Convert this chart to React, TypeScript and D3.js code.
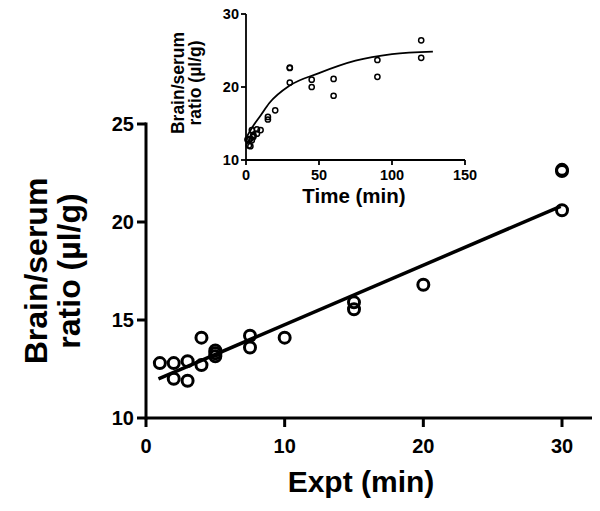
import React from "react";
import * as d3 from "d3";

// Main panel data: experimental time (min) vs brain/serum ratio (µl/g)
const mainTime = [1, 2, 2, 3, 3, 4, 4, 5, 5, 5, 7.5, 7.5, 10, 15, 15, 20, 30, 30, 30];
const mainRatio = [12.8, 12.8, 12.0, 12.9, 11.9, 14.1, 12.7, 13.15, 13.3, 13.45, 14.2, 13.6, 14.1, 15.9, 15.55, 16.8, 22.6, 22.66, 20.6];

// Linear regression line endpoints
const fitTime = [0.9, 29.9];
const fitRatio = [12.0, 20.8];

// Inset additional late time points
const lateTime = [45, 45, 60, 60, 90, 90, 120, 120];
const lateRatio = [21.0, 20.0, 21.1, 18.8, 23.7, 21.4, 26.4, 24.0];

// Inset fitted curve samples
const curveTime = [0, 5, 10, 16, 30, 50, 75, 100, 128];
const curveRatio = [13.0, 14.7, 16.1, 17.8, 20.2, 21.9, 23.6, 24.5, 24.85];

const mainXTicks = [0, 10, 20, 30];
const mainYTicks = [10, 15, 20, 25];
const insetXTicks = [0, 50, 100, 150];
const insetYTicks = [10, 20, 30];

const FONT = "'Liberation Sans', Arial, sans-serif";

export default function App() {
  const W = 600;
  const H = 511;

  // main scales
  const x = d3.scaleLinear().domain([0, 30]).range([146, 562]);
  const y = d3.scaleLinear().domain([10, 25]).range([418, 124]);
  const xAxisEnd = 592;

  // inset scales
  const ix = d3.scaleLinear().domain([0, 150]).range([246, 465]);
  const iy = d3.scaleLinear().domain([10, 30]).range([160, 14]);

  const fitLine = d3
    .line<number>()
    .x((_, i) => x(fitTime[i]))
    .y((_, i) => y(fitRatio[i]))(fitTime.map((d) => d)) as string;

  const curve = d3
    .line<number>()
    .x((_, i) => ix(curveTime[i]))
    .y((_, i) => iy(curveRatio[i]))
    .curve(d3.curveMonotoneX)(curveTime.map((d) => d)) as string;

  const insetTime = mainTime.concat(lateTime);
  const insetRatio = mainRatio.concat(lateRatio);

  return (
    <svg width={W} height={H} style={{ display: "block", position: "absolute", left: 0, top: 0 }} fontFamily={FONT}>
      <rect width={W} height={H} fill="#fff" />

      {/* ===== Main panel ===== */}
      <g stroke="#000" strokeWidth={3} fill="none">
        <line x1={x(0)} x2={xAxisEnd} y1={y(10)} y2={y(10)} />
        <line x1={x(0)} x2={x(0)} y1={y(10)} y2={y(25)} strokeLinecap="square" />
        {mainXTicks.map((t) => (
          <line key={"mx" + t} x1={x(t)} x2={x(t)} y1={y(10)} y2={y(10) + 9} />
        ))}
        {mainYTicks.map((t) => (
          <line key={"my" + t} x1={x(0) - 9} x2={x(0)} y1={y(t)} y2={y(t)} />
        ))}
      </g>
      <g fontSize={20} fontWeight="bold" fill="#000">
        {mainXTicks.map((t) => (
          <text key={"mxl" + t} x={x(t)} y={453} textAnchor="middle">
            {t}
          </text>
        ))}
        {mainYTicks.map((t) => (
          <text key={"myl" + t} x={134} y={y(t) + 7} textAnchor="end">
            {t}
          </text>
        ))}
      </g>
      <text x={361} y={492} textAnchor="middle" fontSize={30} fontWeight="bold">
        Expt (min)
      </text>
      <g transform={`translate(0, ${(y(10) + y(25)) / 2}) rotate(-90)`} fontSize={32} fontWeight="bold">
        <text x={0} y={47} textAnchor="middle">Brain/serum</text>
        <text x={0} y={80} textAnchor="middle">ratio (µl/g)</text>
      </g>

      <path d={fitLine} stroke="#000" strokeWidth={3.5} fill="none" />
      <g stroke="#000" strokeWidth={3} fill="none">
        {mainTime.map((t, i) => (
          <circle key={"mp" + i} cx={x(t)} cy={y(mainRatio[i])} r={5.5} />
        ))}
      </g>

      {/* ===== Inset ===== */}
      <g stroke="#000" strokeWidth={1.8} fill="none">
        <line x1={ix(0)} x2={ix(150)} y1={iy(10)} y2={iy(10)} />
        <line x1={ix(0)} x2={ix(0)} y1={iy(10)} y2={iy(30)} />
        {insetXTicks.map((t) => (
          <line key={"ix" + t} x1={ix(t)} x2={ix(t)} y1={iy(10)} y2={iy(10) + 5} />
        ))}
        {insetYTicks.map((t) => (
          <line key={"iy" + t} x1={ix(0) - 5} x2={ix(0)} y1={iy(t)} y2={iy(t)} />
        ))}
      </g>
      <g fontSize={14.5} fontWeight="bold" fill="#000">
        {insetXTicks.map((t) => (
          <text key={"ixl" + t} x={ix(t)} y={180} textAnchor="middle">
            {t}
          </text>
        ))}
        {insetYTicks.map((t) => (
          <text key={"iyl" + t} x={239} y={iy(t) + 5} textAnchor="end">
            {t}
          </text>
        ))}
      </g>
      <text x={354} y={203} textAnchor="middle" fontSize={20.5} fontWeight="bold">
        Time (min)
      </text>
      <g transform={`translate(0, 83) rotate(-90)`} fontSize={17.5} fontWeight="bold">
        <text x={0} y={184} textAnchor="middle">Brain/serum</text>
        <text x={0} y={201} textAnchor="middle">ratio (µl/g)</text>
      </g>

      <path d={curve} stroke="#000" strokeWidth={1.8} fill="none" />
      <g stroke="#000" strokeWidth={1.5} fill="none">
        {insetTime.map((t, i) => (
          <circle key={"ip" + i} cx={ix(t)} cy={iy(insetRatio[i])} r={2.6} />
        ))}
      </g>
    </svg>
  );
}
